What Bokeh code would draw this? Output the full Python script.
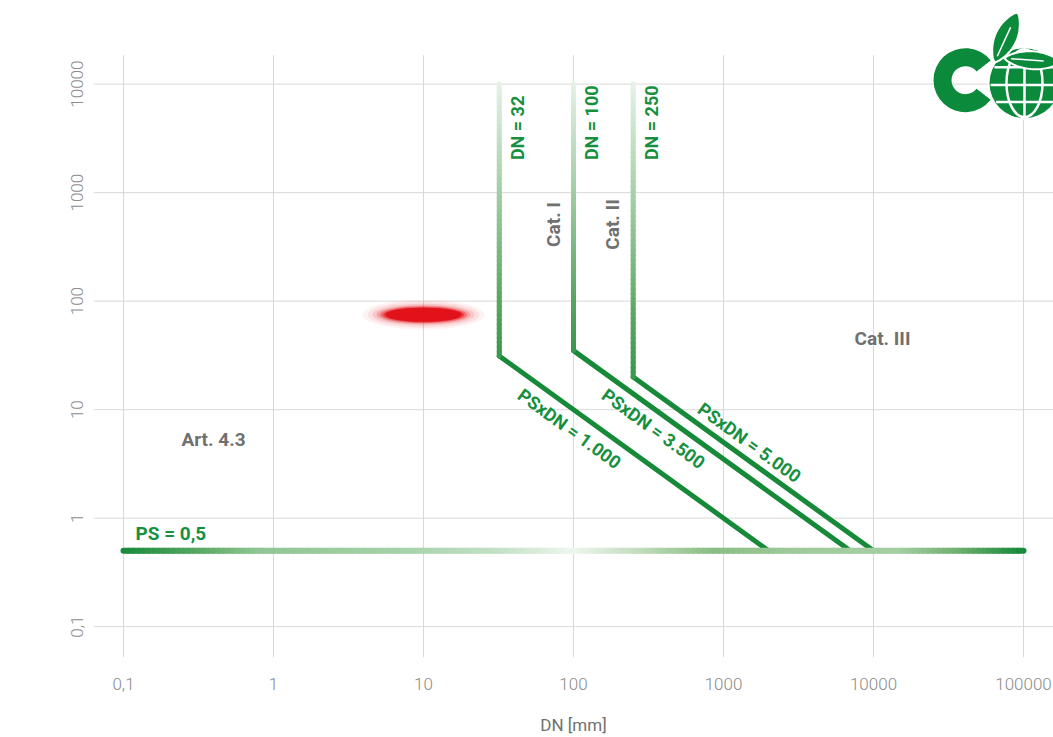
import numpy as np
from bokeh.plotting import figure
from bokeh.models import Range1d, FixedTicker, Label
from bokeh.core.properties import value
from bokeh.embed import file_html
from bokeh.resources import INLINE

# ---------------- data ----------------
x_ticks = [0.1, 1, 10, 100, 1000, 10000, 100000]
x_tick_labels = ["0,1", "1", "10", "100", "1000", "10000", "100000"]
y_ticks = [0.1, 1, 10, 100, 1000, 10000]
y_tick_labels = ["0,1", "1", "10", "100", "1000", "10000"]

ps_min_dn = [0.1, 100000]          # PS = 0,5 line extent (DN)
ps_min_ps = [0.5, 0.5]

dn_limits = [32, 100, 250]          # vertical DN limit lines
ps_top = [10000, 10000, 10000]
ps_bend = [31.25, 35, 20]           # PS where PSxDN limit starts
dn_end = [2000, 7000, 10000]        # DN where PSxDN limit meets PS = 0,5
ps_end = [0.5, 0.5, 0.5]
dn_labels = ["DN = 32", "DN = 100", "DN = 250"]
psxdn_labels = ["PSxDN = 1.000", "PSxDN = 3.500", "PSxDN = 5.000"]

marker_dn = [10]
marker_ps = [75]

# ---------------- layout helpers ----------------
W, H = 1053, 737
X_LO, X_HI = -1.2, 5.2
Y_LO, Y_HI = -1.284, 4 + 84 / 109
GREEN = "#16903e"
LINE_GREEN = "#168a38"
GRAY = "#707070"
TICK_GRAY = "#8c8c8c"
GRID = "#d9d9d9"
FONT = "Roboto"


def px2x(px):
    return 10 ** ((px - 123) / 150 - 1)


def px2y(py):
    return 10 ** (4 - (py - 84) / 109)


def hex2rgb(h):
    return tuple(int(h[i:i + 2], 16) for i in (1, 3, 5))


def grad(stops, t):
    for (t0, c0), (t1, c1) in zip(stops, stops[1:]):
        if t <= t1:
            f = (t - t0) / (t1 - t0) if t1 > t0 else 0.0
            a, b = hex2rgb(c0), hex2rgb(c1)
            return "#%02x%02x%02x" % tuple(round(a[k] + (b[k] - a[k]) * f) for k in range(3))
    return stops[-1][1]


def gradient_segments(x0, y0, x1, y1, stops, n):
    lx = np.linspace(np.log10(x0), np.log10(x1), n + 1)
    ly = np.linspace(np.log10(y0), np.log10(y1), n + 1)
    xs, ys = 10 ** lx, 10 ** ly
    mids = (np.arange(n) + 0.5) / n
    cols = [grad(stops, t) for t in mids]
    return dict(x0=xs[:-1], y0=ys[:-1], x1=xs[1:], y1=ys[1:], color=cols)


p = figure(width=W, height=H, x_axis_type="log", y_axis_type="log",
           x_range=Range1d(10 ** X_LO, 10 ** X_HI), y_range=Range1d(10 ** Y_LO, 10 ** Y_HI),
           output_backend="svg", toolbar_location=None, title=None,
           min_border_left=93, min_border_right=0, min_border_top=0, min_border_bottom=77)
p.outline_line_color = None
p.grid.visible = False

# axes
for ax in (p.xaxis[0], p.yaxis[0]):
    ax.axis_line_color = None
    ax.major_tick_line_color = None
    ax.minor_tick_line_color = None
    ax.major_tick_out = 0
    ax.major_tick_in = 0
    ax.major_label_text_color = TICK_GRAY
    ax.major_label_text_font = "Roboto Light"
    ax.major_label_text_font_size = "17px"
p.xaxis.ticker = FixedTicker(ticks=x_ticks)
p.yaxis.ticker = FixedTicker(ticks=y_ticks)
p.xaxis.major_label_overrides = dict(zip(x_ticks, x_tick_labels))
p.yaxis.major_label_overrides = dict(zip(y_ticks, y_tick_labels))
p.yaxis.major_label_orientation = "vertical"
p.xaxis.major_label_standoff = 20
p.yaxis.major_label_standoff = 10
p.xaxis.axis_label = "DN [mm]"
p.xaxis.axis_label_text_font = FONT
p.xaxis.axis_label_text_font_style = "normal"
p.xaxis.axis_label_text_font_size = "17px"
p.xaxis.axis_label_text_color = GRAY
p.xaxis.axis_label_standoff = 22

p.add_layout(Label(x=px2x(38), y=px2y(365), text="PS [bar]", angle=np.pi / 2,
                   text_align="center", text_baseline="middle", text_font=FONT,
                   text_font_size="17px", text_color=GRAY))

# manual grid (limited vertical extent)
nx, ny = len(x_ticks), len(y_ticks)
p.segment(x0=x_ticks, y0=[10 ** Y_LO] * nx, x1=x_ticks, y1=[px2y(55)] * nx,
          line_color=GRID, line_width=1)
p.segment(x0=[px2x(93)] * ny, y0=y_ticks, x1=[10 ** X_HI] * ny, y1=y_ticks,
          line_color=GRID, line_width=1)

# vertical DN lines (gradient) + PSxDN diagonals
vstops = [(0.0, "#e6f2e8"), (0.4, "#a3cea6"), (0.8, "#5aa762"), (1.0, "#3a984c")]
for dn, top, bend, de, pe in zip(dn_limits, ps_top, ps_bend, dn_end, ps_end):
    p.line([dn, de], [bend, pe], line_color=LINE_GREEN, line_width=5, line_cap="round")
    seg = gradient_segments(dn, top, dn, bend, vstops, 60)
    p.segment(x0=seg["x0"], y0=seg["y0"], x1=seg["x1"], y1=seg["y1"],
              line_color=seg["color"], line_width=5, line_cap="round")

# PS = 0,5 line (gradient)
hstops = [(0.0, "#17893a"), (0.086, "#5aa862"), (0.152, "#90c594"), (0.308, "#a5d1a8"),
          (0.419, "#c3e1c5"), (0.502, "#edf6ee"), (0.574, "#c2dcbd"), (0.658, "#8abd83"),
          (0.752, "#a0ca9c"), (0.863, "#a5cea2"), (0.93, "#6fb06f"), (1.0, "#17893a")]
seg = gradient_segments(ps_min_dn[0], ps_min_ps[0], ps_min_dn[1], ps_min_ps[1], hstops, 180)
p.segment(x0=seg["x0"], y0=seg["y0"], x1=seg["x1"], y1=seg["y1"],
          line_color=seg["color"], line_width=6, line_cap="round")

# red blurred marker
for w, h, a in [(122, 30, 0.05), (112, 26, 0.08), (102, 22, 0.12), (94, 19, 0.2),
                (87, 17, 0.35), (81, 15, 0.6), (76, 14, 1.0)]:
    p.ellipse(x=marker_dn, y=marker_ps, width=w, height=h, width_units="screen",
              height_units="screen", fill_color="#e2121b", fill_alpha=a, line_color=None)

# text labels
bold = dict(text_font=value(FONT), text_font_style="bold", text_font_size="18px")
p.text(x=dn_limits, y=ps_top, text=dn_labels, angle=np.pi / 2, x_offset=18, y_offset=76,
       text_align="left", text_baseline="middle", text_color=GREEN, **bold)

ang = -np.arctan(109 / 150)
for txt, (cx, cy) in zip(psxdn_labels, [(569, 430), (653, 430), (749, 444)]):
    p.add_layout(Label(x=px2x(cx), y=px2y(cy), text=txt, angle=ang, text_align="center",
                       text_baseline="middle", text_color=GREEN, text_font=FONT,
                       text_font_style="bold", text_font_size="18px"))

for txt, (cx, cy), rot in [("Cat. I", (553, 225), np.pi / 2), ("Cat. II", (612, 225), np.pi / 2),
                           ("Cat. III", (882, 340), 0), ("Art. 4.3", (213, 441), 0)]:
    p.add_layout(Label(x=px2x(cx), y=px2y(cy), text=txt, angle=rot, text_align="center",
                       text_baseline="middle", text_color=GRAY, text_font=FONT,
                       text_font_style="bold", text_font_size="19px"))

p.add_layout(Label(x=px2x(135), y=px2y(535), text="PS = 0,5", text_align="left",
                   text_baseline="middle", text_color=GREEN, text_font=FONT,
                   text_font_style="bold", text_font_size="19px"))

# logo (decoration)
LOGO = "#0b8a3b"
p.annular_wedge(x=[px2x(965)], y=[px2y(80)], inner_radius=14, outer_radius=32,
                inner_radius_units="screen", outer_radius_units="screen",
                start_angle=np.radians(38), end_angle=np.radians(-38),
                fill_color=LOGO, line_color=None)
gx, gy, gr = 1024, 83, 35
p.circle(x=[px2x(gx)], y=[px2y(gy)], radius=gr + 2, radius_units="screen",
         fill_color="white", line_color=None)
p.circle(x=[px2x(gx)], y=[px2y(gy)], radius=gr, radius_units="screen",
         fill_color=LOGO, line_color=None)
for dy in (-16, 2, 19):
    hl = np.sqrt(gr ** 2 - dy ** 2) - 1
    p.segment(x0=[px2x(gx - hl)], y0=[px2y(gy + dy)], x1=[px2x(gx + hl)], y1=[px2y(gy + dy)],
              line_color="white", line_width=2.5)
p.segment(x0=[px2x(gx)], y0=[px2y(gy - gr + 1)], x1=[px2x(gx)], y1=[px2y(gy + gr - 1)],
          line_color="white", line_width=2.5)
p.ellipse(x=[px2x(gx)], y=[px2y(gy)], width=36, height=2 * gr - 2, width_units="screen",
          height_units="screen", fill_color=None, line_color="white", line_width=2.5)


def leaf(bx, by, tx, ty, hw, n=30):
    t = np.linspace(0, 1, n)
    dx, dy = tx - bx, ty - by
    L = np.hypot(dx, dy)
    nxv, nyv = -dy / L, dx / L
    w = hw * np.sin(np.pi * t) ** 0.7
    px_ = np.concatenate([bx + t * dx + w * nxv, (bx + t * dx - w * nxv)[::-1]])
    py_ = np.concatenate([by + t * dy + w * nyv, (by + t * dy - w * nyv)[::-1]])
    return [px2x(v) for v in px_], [px2y(v) for v in py_]


for (bx, by, tx, ty, hw) in [(1004, 58, 1060, 62, 9), (994, 62, 1017, 12, 11)]:
    lx, ly = leaf(bx, by, tx, ty, hw)
    p.patch(lx, ly, fill_color=LOGO, line_color="white", line_width=2)
    p.line([px2x(bx + (tx - bx) * 0.12), px2x(bx + (tx - bx) * 0.7)],
           [px2y(by + (ty - by) * 0.12), px2y(by + (ty - by) * 0.7)],
           line_color="white", line_width=1.5)

open("out.html", "w").write(file_html(p, INLINE))
